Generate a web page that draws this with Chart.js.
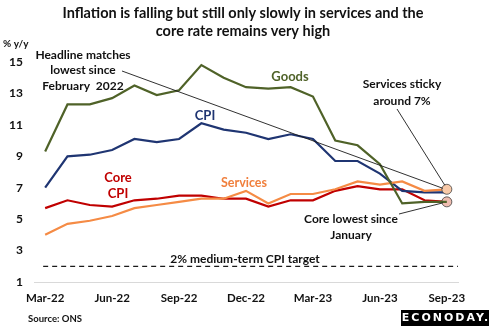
<!DOCTYPE html>
<html>
<head>
<meta charset="utf-8">
<script src="https://cdn.jsdelivr.net/npm/chart.js@4/dist/chart.umd.min.js"></script>
<style>
  html, body { margin: 0; padding: 0; background: #fff; }
  #wrap { position: relative; width: 489px; height: 326px; }
</style>
</head>
<body>
<div id="wrap"><canvas id="uk-cpi"></canvas></div>
<script>
// UK inflation, % y/y, Mar-22 to Sep-23
const months = ['Mar-22','Apr-22','May-22','Jun-22','Jul-22','Aug-22','Sep-22','Oct-22','Nov-22','Dec-22',
                'Jan-23','Feb-23','Mar-23','Apr-23','May-23','Jun-23','Jul-23','Aug-23','Sep-23'];
const cpi      = [7.0, 9.0, 9.1, 9.4, 10.1, 9.9, 10.1, 11.1, 10.7, 10.5, 10.1, 10.4, 10.1, 8.7, 8.7, 7.9, 6.8, 6.7, 6.7];
const core     = [5.7, 6.2, 5.9, 5.8, 6.2, 6.3, 6.5, 6.5, 6.3, 6.3, 5.8, 6.2, 6.2, 6.8, 7.1, 6.9, 6.9, 6.2, 6.1];
const services = [4.0, 4.7, 4.9, 5.2, 5.7, 5.9, 6.1, 6.3, 6.3, 6.8, 6.0, 6.6, 6.6, 6.9, 7.4, 7.2, 7.4, 6.8, 6.9];
const goods    = [9.3, 12.3, 12.3, 12.7, 13.5, 12.9, 13.2, 14.8, 14.0, 13.4, 13.3, 13.4, 12.8, 10.0, 9.7, 8.5, 6.0, 6.1, 6.1];
const target = 2;
const yTicks = [1, 3, 5, 7, 9, 11, 13, 15];

const FONT = 'Lato, "Open Sans", sans-serif';
const last = months.length - 1;

// only the final point gets a marker
const endDot = (fill) => ({
  pointRadius: ctx => ctx.dataIndex === last ? 5 : 0,
  pointHoverRadius: 0,
  pointBackgroundColor: fill,
  pointBorderColor: '#404040',
  pointBorderWidth: 0.8
});

function text(ctx, str, x, y, font, color, align) {
  ctx.font = font;
  ctx.fillStyle = color;
  ctx.textAlign = align || 'center';
  ctx.textBaseline = 'middle';
  ctx.fillText(str, x, y);
}

function line(ctx, x1, y1, x2, y2, w) {
  ctx.beginPath();
  ctx.moveTo(x1, y1);
  ctx.lineTo(x2, y2);
  ctx.lineWidth = w || 1;
  ctx.strokeStyle = '#1a1a1a';
  ctx.stroke();
}

const targetLine = {
  id: 'targetLine',
  beforeDatasetsDraw(chart) {
    const { ctx, chartArea, scales } = chart;
    const y = scales.y.getPixelForValue(target);
    ctx.save();
    ctx.setLineDash([5, 4]);
    line(ctx, scales.x.getPixelForValue(0) - 2, y, chartArea.right, y, 1.3);
    ctx.restore();
  }
};

const notes = {
  id: 'notes',
  afterDraw(chart) {
    const { ctx, scales } = chart;
    const ex = scales.x.getPixelForValue(last);
    const ySvc = scales.y.getPixelForValue(services[last]);
    const yCore = scales.y.getPixelForValue(core[last]);
    ctx.save();

    // title
    text(ctx, 'Inflation is falling but still only slowly in services and the', 243, 13, 'bold 14.5px ' + FONT, '#111');
    text(ctx, 'core rate remains very high', 243, 31, 'bold 14.5px ' + FONT, '#111');
    text(ctx, '% y/y', 3, 44, 'bold 10px ' + FONT, '#111', 'left');

    // series labels
    text(ctx, 'Goods', 290, 77, 'bold 13px ' + FONT, '#4f6228');
    text(ctx, 'CPI', 205, 116, 'bold 13px ' + FONT, '#1f3572');
    text(ctx, 'Core', 118, 178, 'bold 13px ' + FONT, '#c00000');
    text(ctx, 'CPI', 118, 194, 'bold 13px ' + FONT, '#c00000');
    text(ctx, 'Services', 244, 183, 'bold 12.5px ' + FONT, '#f07f3c');

    // callouts
    const f = 'bold 12px ' + FONT;
    text(ctx, 'Headline matches', 83, 55, f, '#111');
    text(ctx, 'lowest since', 83, 70, f, '#111');
    text(ctx, 'February  2022', 83, 86, f, '#111');
    line(ctx, 122, 71, ex - 4, ySvc - 1, 0.9);

    text(ctx, 'Services sticky', 402, 84, f, '#111');
    text(ctx, 'around 7%', 402, 101, f, '#111');
    line(ctx, 397, 109, ex - 2, ySvc - 4, 0.9);

    text(ctx, 'Core lowest since', 351, 219, f, '#111');
    text(ctx, 'January', 351, 235, f, '#111');
    line(ctx, 399, 214, ex - 4, yCore + 1, 0.9);

    text(ctx, '2% medium-term CPI target', 245, 259, f, '#111');

    // footer
    text(ctx, 'Source: ONS', 28, 319, 'bold 9.5px ' + FONT, '#111', 'left');
    ctx.fillStyle = '#000';
    ctx.fillRect(401, 310, 88, 16);
    ctx.letterSpacing = '2px';
    text(ctx, 'ECONODAY.', 446, 318.5, 'bold 11px "DejaVu Sans", sans-serif', '#fff');
    ctx.restore();
  }
};

const series = (label, data, color, order, dot) => Object.assign({
  label, data,
  borderColor: color,
  backgroundColor: color,
  borderWidth: 2.2,
  tension: 0,
  order
}, dot ? endDot(dot) : { pointRadius: 0, pointHoverRadius: 0 });

new Chart(document.getElementById('uk-cpi').getContext('2d'), {
  type: 'line',
  data: {
    labels: months,
    datasets: [
      series('Goods', goods, '#4f6228', 1),
      series('Services', services, '#f58b45', 2, '#f8c9a8'),
      series('CPI', cpi, '#1f3572', 3),
      series('Core CPI', core, '#c00000', 4, '#efbcb0')
    ]
  },
  options: {
    responsive: true,
    maintainAspectRatio: false,
    animation: false,
    layout: { padding: { top: 62, left: 0, right: 31, bottom: 0 } },
    plugins: {
      legend: { display: false },
      tooltip: { enabled: false }
    },
    scales: {
      x: {
        offset: true,
        grid: { display: false, drawTicks: false },
        border: { color: '#d9d9d9', width: 1 },
        afterFit: s => { s.height = 44; },
        ticks: {
          autoSkip: false,
          maxRotation: 0,
          padding: 9,
          color: '#111',
          font: { family: FONT, size: 11.5, weight: 'bold' },
          callback: (v, i) => i % 3 === 0 ? months[i] : ''
        }
      },
      y: {
        min: 1,
        max: 15,
        afterFit: s => { s.width = 34; },
        afterBuildTicks: s => { s.ticks = yTicks.map(v => ({ value: v })); },
        grid: { display: false, drawTicks: false },
        border: { display: false },
        ticks: {
          padding: 11,
          color: '#111',
          font: { family: FONT, size: 12, weight: 'bold' }
        }
      }
    }
  },
  plugins: [targetLine, notes]
});
</script>
</body>
</html>
